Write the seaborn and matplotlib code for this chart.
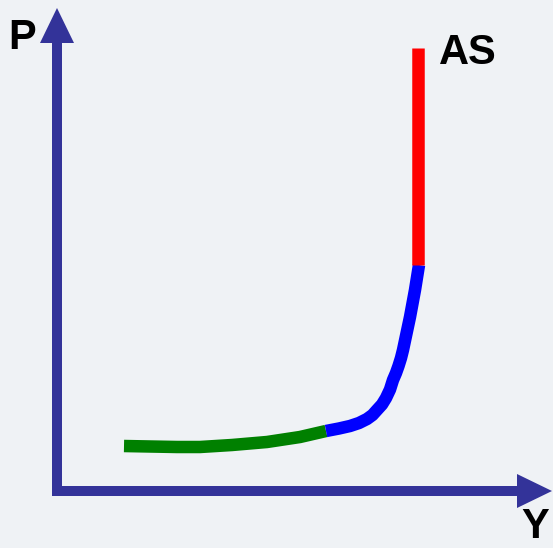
import matplotlib
matplotlib.use("Agg")
import matplotlib.pyplot as plt
import seaborn as sns
import pandas as pd

# AS curve, three segments (Y = output, P = price level)
green_y = [13.4, 18.6, 24.0, 28.6, 35.0, 42.0, 48.6, 53.8]
green_p = [9.0, 8.9, 8.8, 8.8, 9.2, 9.8, 10.8, 12.0]

blue_y = [53.8, 56.4, 58.6, 60.4, 62.0, 63.1, 64.0, 65.0, 65.8, 66.6,
          67.2, 67.8, 68.3, 68.8, 69.2, 69.9, 70.6, 71.1, 71.6, 72.0, 72.4]
blue_p = [12.0, 12.5, 13.0, 13.6, 14.4, 15.2, 16.2, 17.3, 18.6, 20.3,
          22.2, 23.6, 25.0, 26.6, 28.2, 31.5, 34.8, 37.5, 40.2, 42.7, 45.2]

red_y = [72.2, 72.2]
red_p = [45.2, 88.6]

axis_color = "#333399"

sns.set_theme(style="white")
plt.rcParams["font.family"] = ["Liberation Sans", "DejaVu Sans"]

fig = plt.figure(figsize=(5.53, 5.48), dpi=100, facecolor="#eff2f5")
ax = fig.add_axes([0, 0, 1, 1])
ax.set_facecolor("#eff2f5")
ax.set_xlim(-11.4, 99.2)
ax.set_ylim(-11.4, 98.2)
ax.axis("off")

segs = [(green_y, green_p, "#008000"), (blue_y, blue_p, "#0000ff"), (red_y, red_p, "#ff0000")]
for xs, ys, c in segs:
    df = pd.DataFrame({"Y": xs, "P": ys})
    sns.lineplot(data=df, x="Y", y="P", sort=False, estimator=None, color=c, lw=9,
                 ax=ax, solid_capstyle="butt", solid_joinstyle="round")

# axes arrows
ax.arrow(0, -1, 0, 97.6, width=2, head_width=6.8, head_length=7,
         length_includes_head=True, color=axis_color, lw=0)
ax.arrow(-1, 0, 100, 0, width=2, head_width=6.8, head_length=7,
         length_includes_head=True, color=axis_color, lw=0)

ax.text(-7, 90.6, "P", fontsize=30, fontweight="bold", color="black", ha="center", va="center")
ax.text(95.6, -7.2, "Y", fontsize=30, fontweight="bold", color="black", ha="center", va="center")
ax.text(82.2, 87.6, "AS", fontsize=30, fontweight="bold", color="black", ha="center", va="center")

fig.savefig("out.png", dpi=100, facecolor=fig.get_facecolor())
